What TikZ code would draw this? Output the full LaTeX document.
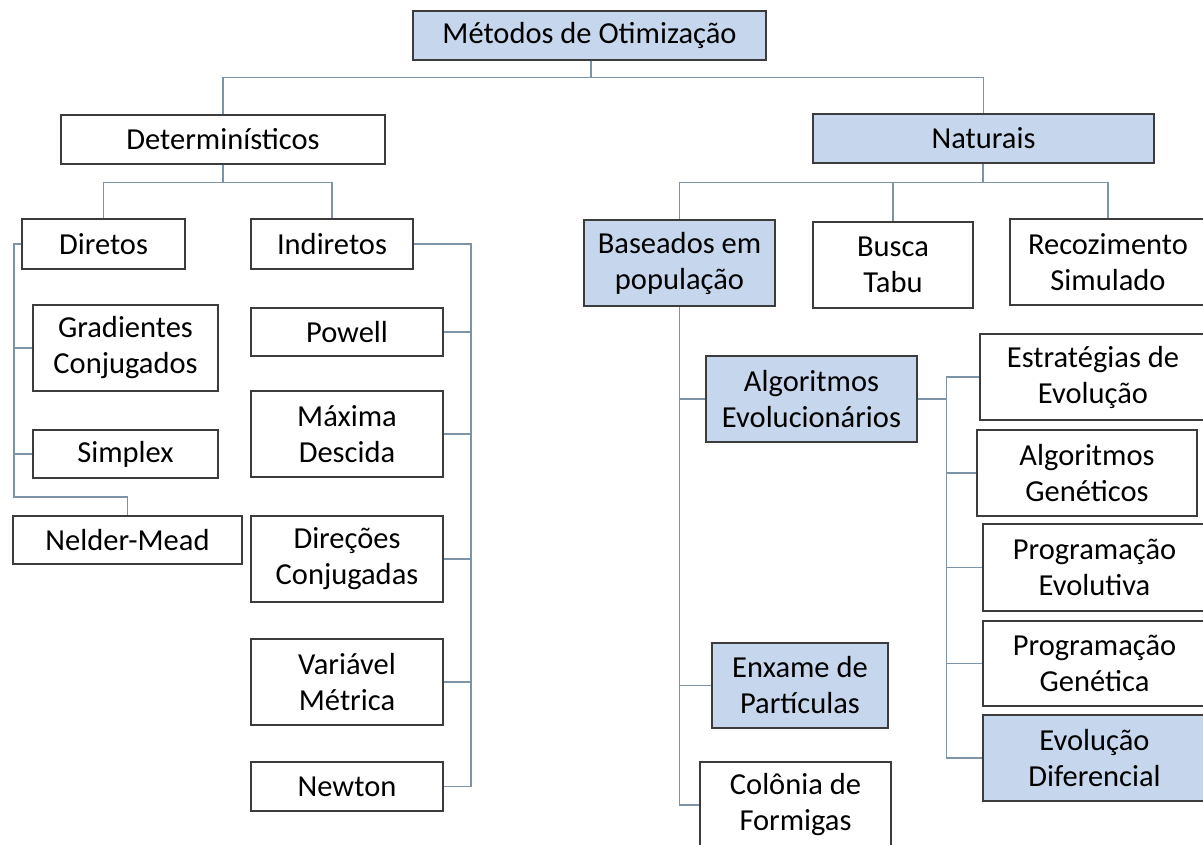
\documentclass[tikz,border=0pt]{standalone}
\usepackage{fontspec}
\setmainfont{Carlito}
\usepackage{tikz}
\definecolor{boxblue}{RGB}{198,214,236}
\definecolor{boxline}{RGB}{60,60,60}
\definecolor{linkline}{RGB}{125,148,168}

\begin{document}
\begin{tikzpicture}[x=1pt,y=-1pt,
    box/.style={draw=boxline,line width=1.5pt,fill=white,align=center,inner sep=0pt,
      font=\fontsize{30.5}{36}\selectfont,text=black},
    bluebox/.style={box,fill=boxblue},
    link/.style={draw=linkline,line width=1.4pt}]
          \useasboundingbox (0,0) rectangle (1203,845);
          \node[bluebox,minimum width=353pt,minimum height=49pt] (metodos) at (589.5,35.5) {Métodos de Otimização};
          \node[box,minimum width=324pt,minimum height=49pt] (determ) at (223,139.5) {Determinísticos};
          \node[bluebox,minimum width=341pt,minimum height=49pt] (naturais) at (983.5,138.5) {Naturais};
          \node[box,minimum width=163pt,minimum height=50pt] (diretos) at (103.5,244) {Diretos};
          \node[box,minimum width=162pt,minimum height=50pt] (indiretos) at (332,244) {Indiretos};
          \node[box,minimum width=185pt,minimum height=86pt] (gradientes) at (125.5,348) {Gradientes\\Conjugados};
          \node[box,minimum width=185pt,minimum height=48pt] (simplex) at (125.5,454) {Simplex};
          \node[box,minimum width=229pt,minimum height=48pt] (nelder) at (127.5,540) {Nelder-Mead};
          \node[box,minimum width=192pt,minimum height=48pt] (powell) at (347,332) {Powell};
          \node[box,minimum width=192pt,minimum height=86pt] (maxima) at (347,434) {Máxima\\Descida};
          \node[box,minimum width=192pt,minimum height=86pt] (direcoes) at (347,559) {Direções\\Conjugadas};
          \node[box,minimum width=192pt,minimum height=86pt] (variavel) at (347,682) {Variável\\Métrica};
          \node[box,minimum width=192pt,minimum height=49pt] (newton) at (347,786.5) {Newton};
          \node[bluebox,minimum width=191pt,minimum height=86pt] (baseados) at (679.5,263) {Baseados em\\população};
          \node[box,minimum width=160pt,minimum height=86pt] (busca) at (893,265) {Busca\\Tabu};
          \node[box,minimum width=196pt,minimum height=86pt] (recoz) at (1108,262) {Recozimento\\Simulado};
          \node[bluebox,minimum width=211pt,minimum height=86pt] (algevol) at (811.5,399) {Algoritmos\\Evolucionários};
          \node[bluebox,minimum width=176pt,minimum height=85pt] (enxame) at (800,685.5) {Enxame de\\Partículas};
          \node[box,minimum width=191pt,minimum height=86pt] (colonia) at (795.5,805) {Colônia de\\Formigas};
          \node[box,minimum width=226pt,minimum height=86pt] (estrategias) at (1093,377) {Estratégias de\\Evolução};
          \node[box,minimum width=220pt,minimum height=86pt] (genet) at (1087,473) {Algoritmos\\Genéticos};
          \node[box,minimum width=223pt,minimum height=87pt] (progevol) at (1094.5,567.5) {Programação\\Evolutiva};
          \node[box,minimum width=223pt,minimum height=85pt] (proggen) at (1094.5,663.5) {Programação\\Genética};
          \node[bluebox,minimum width=223pt,minimum height=86pt] (evodif) at (1094.5,758) {Evolução\\Diferencial};

          \path (metodos.south) ++(1.5,17) coordinate (topbus);
          \draw[link] (metodos.south -| topbus) -- (topbus);
          \draw[link] (determ.north) |- (topbus) -| (naturais.north);
          \path (determ.south) ++(0,18) coordinate (detbus);
          \draw[link] (determ.south) -- (detbus);
          \draw[link] (diretos.north) |- (detbus) -| (indiretos.north);
          \path (naturais.south) ++(-0.5,19) coordinate (natbus);
          \draw[link] (naturais.south -| natbus) -- (natbus);
          \draw[link] (baseados.north) |- (natbus) -| (recoz.north);
          \draw[link] (busca.north) -- (busca.north |- natbus);

          \coordinate (dcorner) at (14,497);
          \draw[link] (diretos.west) -| (dcorner) -| (nelder.north);
          \draw[link] (gradientes.west) -- (gradientes.west -| dcorner);
          \draw[link] (simplex.west) -- (simplex.west -| dcorner);
          \coordinate (ispine) at (471,500);
          \draw[link] (indiretos.east) -| (ispine) |- (newton.east);
          \foreach \n in {powell,maxima,direcoes,variavel}
            \draw[link] (\n.east) -- (\n.east -| ispine);

          \draw[link] (baseados.south) |- (colonia.west);
          \foreach \n in {algevol,enxame}
            \draw[link] (\n.west) -- (\n.west -| baseados.south);
          \path (algevol.east) ++(29,0) coordinate (aspine);
          \draw[link] (algevol.east) -- (aspine);
          \draw[link] (estrategias.west) -| (aspine) |- (evodif.west);
          \foreach \n in {genet,progevol,proggen}
            \draw[link] (\n.west) -- (\n.west -| aspine);
        \end{tikzpicture}
\end{document}
